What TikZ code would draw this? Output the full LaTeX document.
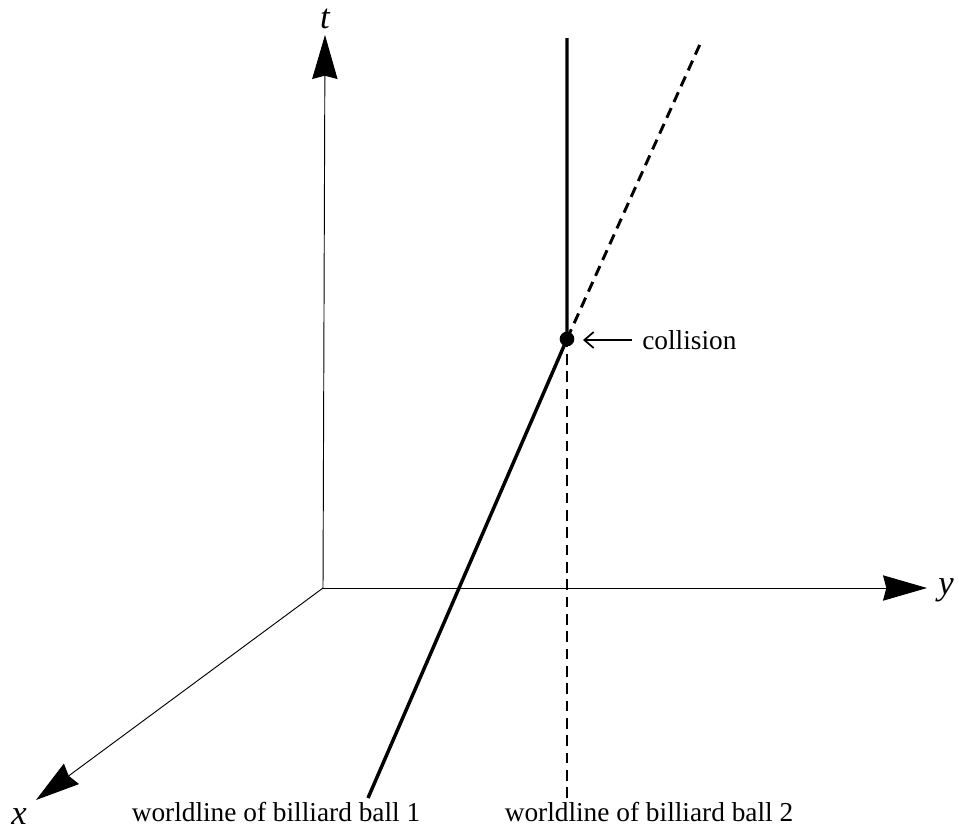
\documentclass[tikz,border=0pt]{standalone}
\usepackage{fontspec}
\setmainfont{Liberation Serif}
\usetikzlibrary{arrows.meta}

\tikzset{
    axis/.style={line width=0.7pt, -{Stealth[length=33pt, width=19pt, inset=2.5pt]}},
    worldline/.style={line width=2.6pt},
    hidden/.style={line width=1.5pt, dash pattern=on 8pt off 5pt},
    axislabel/.style={font=\fontsize{26}{30}\selectfont\itshape, inner sep=0pt},
    caption/.style={font=\fontsize{20.5}{24}\selectfont, inner sep=0pt}
}

\begin{document}
\begin{tikzpicture}[x=0.75pt, y=-0.75pt]
    \useasboundingbox (0,0) rectangle (959,836);

    % Axes
    \coordinate (O) at (323,588);
    \coordinate (ttip) at (325,35);
    \coordinate (ytip) at (927,588);
    \coordinate (xtip) at (36,800);
    \draw[axis] (O) -- (ttip);
    \draw[axis] (O) -- (ytip);
    \draw[axis] (O) -- (xtip);
    \node[axislabel] (tlab) at (325,19) {t};
    \node[axislabel] (ylab) at (946,590) {y};
    \node[axislabel] (xlab) at (19,817) {x};

    % Collision event
    \coordinate (hit) at (567,339);
    \coordinate (b1start) at (368,798);
    \coordinate (b1end) at (567,38);
    \coordinate (b2start) at (567,798);
    \coordinate (b2end) at (701,42);

    % Ball 1: moves, then rests after the hit
    \draw[worldline] (b1start) -- (hit) -- (b1end);

    % Ball 2: rests, then moves after the hit
    \draw[hidden] (b2start) -- (hit);
    \draw[hidden, line width=2.2pt] (hit) -- (b2end);

    \fill (hit) circle (5.5pt);

    % Labels
    \node[caption, anchor=west] (hitlab) at (642,340) {collision};
    \draw[line width=1.3pt, -{Straight Barb[length=7pt, width=12pt]}] (hitlab.west) ++(-10,0) coordinate (hitfrom) -- (583,340) coordinate (hitto);

    \node[caption] (lab1) at (276,812) {worldline of billiard ball 1};
    \node[caption] (lab2) at (649,812) {worldline of billiard ball 2};
\end{tikzpicture}
\end{document}
